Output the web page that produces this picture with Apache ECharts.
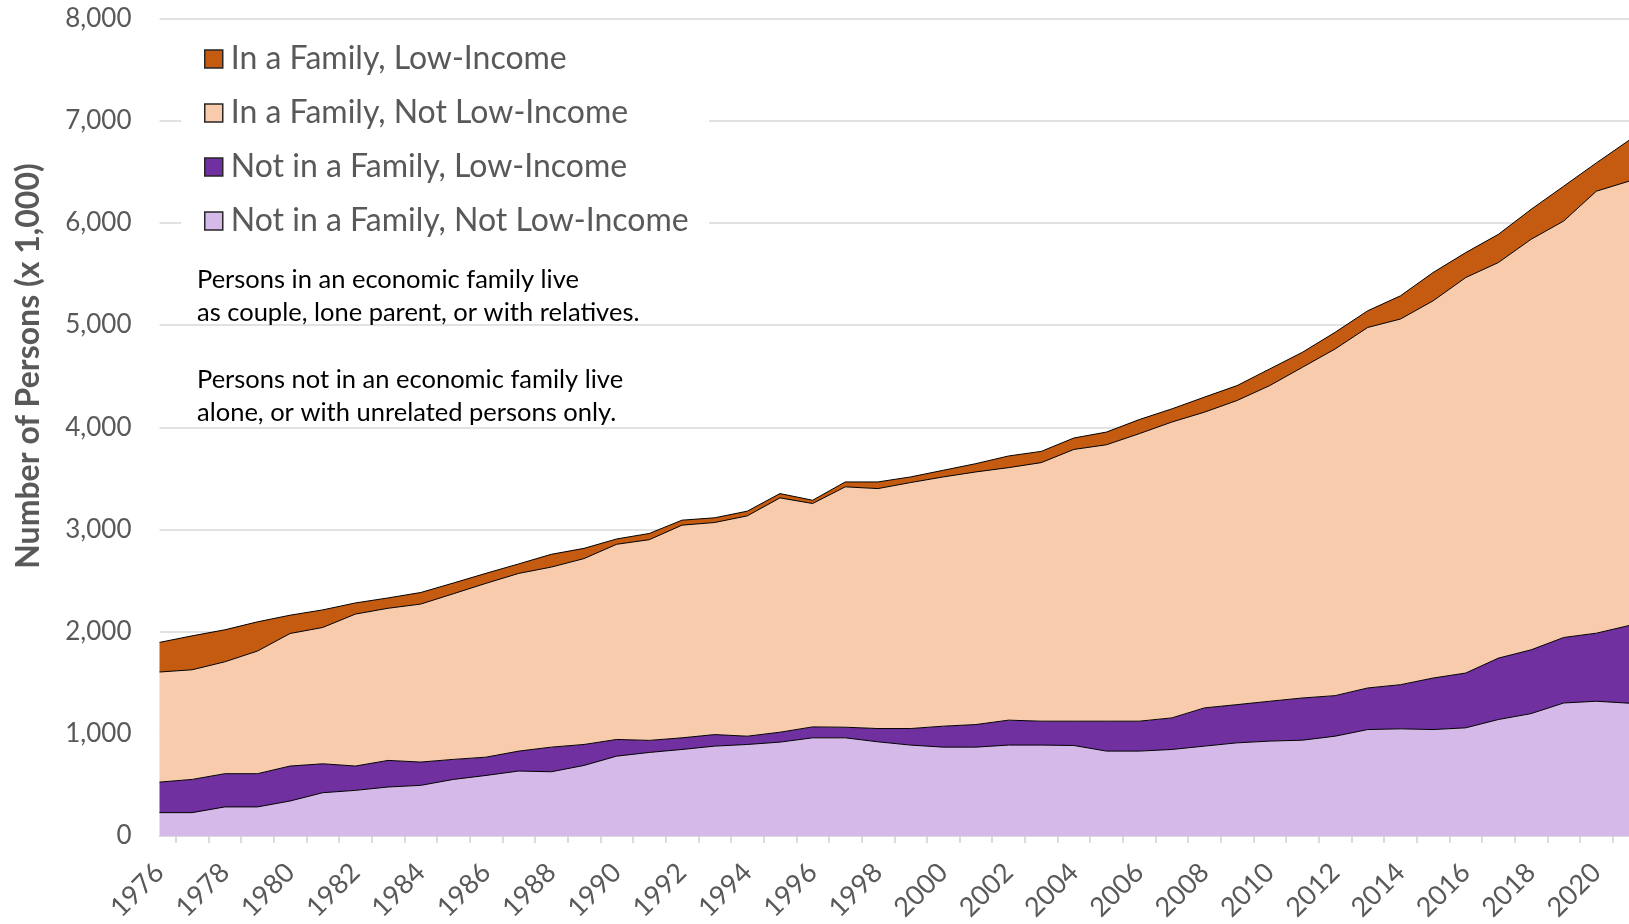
<!DOCTYPE html>
<html>
<head>
<meta charset="utf-8">
<title>Persons in and not in economic families</title>
<script src="https://cdn.jsdelivr.net/npm/echarts@6/dist/echarts.min.js"></script>
<style>
  html, body { margin: 0; padding: 0; background: #fff; }
  #main { width: 1629px; height: 924px; }
</style>
</head>
<body>
<div id="main"></div>
<script>
// years on the x axis
const years = ['1976','1977','1978','1979','1980','1981','1982','1983','1984','1985',
  '1986','1987','1988','1989','1990','1991','1992','1993','1994','1995',
  '1996','1997','1998','1999','2000','2001','2002','2003','2004','2005',
  '2006','2007','2008','2009','2010','2011','2012','2013','2014','2015',
  '2016','2017','2018','2019','2020','2021'];

// thousands of persons
const notFamNotLow = [229,229,285,285,343,424,447,480,496,554,
  593,636,629,691,782,818,847,880,896,919,
  961,961,922,890,870,870,890,890,886,831,
  831,847,880,912,929,938,977,1042,1049,1042,
  1059,1140,1198,1302,1319,1300];
const notFamLow = [299,325,325,325,342,283,238,260,228,196,
  179,195,241,205,163,118,114,113,81,97,
  107,104,130,162,205,221,244,234,238,293,
  293,309,374,374,390,413,397,407,432,504,
  536,601,624,641,666,760];
const famNotLow = [1077,1073,1095,1200,1297,1334,1487,1489,1546,1621,
  1701,1739,1762,1819,1910,1964,2081,2075,2156,2293,
  2186,2352,2348,2407,2439,2472,2471,2530,2659,2705,
  2813,2895,2894,2976,3089,3236,3392,3528,3578,3691,
  3870,3871,4017,4075,4325,4348];
const famLow = [290,332,313,286,179,172,109,101,113,105,
  98,93,125,100,52,61,49,46,46,42,
  32,48,65,55,65,81,114,110,112,124,
  138,129,147,146,163,147,163,163,227,277,
  244,276,293,341,277,400];

const seriesNames = ['Not in a Family, Not Low-Income', 'Not in a Family, Low-Income',
  'In a Family, Not Low-Income', 'In a Family, Low-Income'];
const seriesColors = ['#D5B9E8', '#7030A0', '#F8CBAD', '#C55A11'];
const legendOrder = ['In a Family, Low-Income', 'In a Family, Not Low-Income',
  'Not in a Family, Low-Income', 'Not in a Family, Not Low-Income'];

const noteLines = ['Persons in an economic family live\nas couple, lone parent, or with relatives.',
  'Persons not in an economic family live\nalone, or with unrelated persons only.'];

// half-year slots so the ticks can sit between the years
const halfSlots = [];
years.forEach(function (y, i) {
  halfSlots.push(y);
  if (i < years.length - 1) halfSlots.push(y + '.5');
});

const FONT = 'Lato';
const GREY = '#595959';

var chart = echarts.init(document.getElementById('main'));

var values = [notFamNotLow, notFamLow, famNotLow, famLow];
var series = values.map(function (d, i) {
  return {
    name: seriesNames[i],
    type: 'line',
    stack: 'total',
    data: d,
    symbol: 'none',
    smooth: false,
    itemStyle: { color: seriesColors[i] },
    lineStyle: { color: '#000', width: 1 },
    areaStyle: { color: seriesColors[i], opacity: 1 },
    emphasis: { disabled: true }
  };
});

var option = {
  animation: false,
  backgroundColor: '#fff',
  grid: { left: 159.5, top: 18.5, bottom: 85.5, right: -11 },
  xAxis: [{
    type: 'category',
    data: years,
    boundaryGap: false,
    axisLine: { lineStyle: { color: '#d9d9d9', width: 1.5 } },
    axisTick: { show: false },
    axisLabel: {
      interval: 1,
      rotate: 45,
      margin: 32,
      color: GREY,
      fontSize: 27,
      fontFamily: FONT
    }
  }, {
    type: 'category',
    data: halfSlots,
    boundaryGap: false,
    position: 'bottom',
    axisLine: { show: false },
    axisLabel: { show: false },
    axisTick: {
      interval: function (i) { return i % 2 === 1; },
      length: 7,
      lineStyle: { color: '#d0d0d0', width: 1.5 }
    },
    splitLine: { show: false }
  }],
  yAxis: {
    type: 'value',
    min: 0,
    max: 8000,
    interval: 1000,
    axisLine: { show: false },
    axisTick: { show: false },
    splitLine: { lineStyle: { color: '#d9d9d9', width: 1.5 } },
    axisLabel: {
      margin: 28,
      color: GREY,
      fontSize: 26,
      fontFamily: FONT,
      formatter: function (v) { return v.toLocaleString('en-US'); }
    }
  },
  legend: {
    data: legendOrder,
    orient: 'vertical',
    left: 199,
    top: 38,
    icon: 'rect',
    itemWidth: 18,
    itemHeight: 18,
    itemGap: 22,
    itemStyle: { borderColor: '#262626', borderWidth: 1.5 },
    textStyle: { color: GREY, fontSize: 32, fontFamily: FONT, lineHeight: 32, padding: [0, 0, 0, 3] },
    selectedMode: false
  },
  graphic: [{
    // white box behind the legend, hides the grid lines there
    type: 'rect',
    z: 3,
    shape: { x: 181, y: 32, width: 528, height: 210 },
    style: { fill: '#fff' }
  }, {
    type: 'text',
    z: 5,
    left: 197,
    top: 263,
    style: { text: noteLines[0], fill: '#000', font: '25.5px ' + FONT, lineHeight: 33 }
  }, {
    type: 'text',
    z: 5,
    left: 197,
    top: 363,
    style: { text: noteLines[1], fill: '#000', font: '25.5px ' + FONT, lineHeight: 33 }
  }, {
    type: 'text',
    z: 5,
    x: 29,
    y: 366,
    rotation: Math.PI / 2,
    style: {
      text: 'Number of Persons (x 1,000)',
      fill: GREY,
      font: 'bold 32px ' + FONT,
      textAlign: 'center',
      textVerticalAlign: 'middle'
    }
  }],
  series: series
};

chart.setOption(option);
</script>
</body>
</html>
